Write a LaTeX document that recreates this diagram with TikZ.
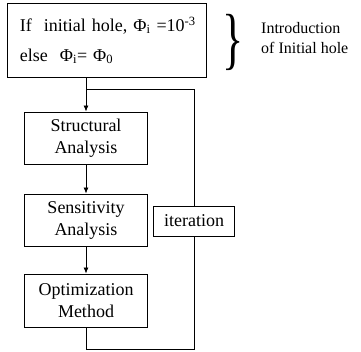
\documentclass[tikz,border=0pt]{standalone}
\usepackage{fontspec}
\setmainfont{Liberation Serif}
\usetikzlibrary{arrows.meta}
\begin{document}
\begin{tikzpicture}[x=1pt,y=-1pt,
  box/.style={draw,line width=0.9pt,minimum width=123pt,minimum height=52pt,inner sep=0pt,
    align=center,font=\fontsize{18}{22}\selectfont},
  conn/.style={line width=0.8pt},
  arr/.style={conn,-{Latex[length=6pt,width=5pt]}}]
\useasboundingbox (0,0) rectangle (361,352);
\node[draw,line width=0.9pt,minimum width=199pt,minimum height=74pt,inner sep=0pt,
  align=left,text width=174pt,font=\fontsize{18}{30}\selectfont,anchor=north west]
  (top) at (7,3) {\mbox{If\ \ initial hole, Φ\textsubscript{i} =10\textsuperscript{-3}}\\\mbox{else\ \ Φ\textsubscript{i}= Φ\textsubscript{0}}};
\node[box] (struct) at (86,138) {Structural\\Analysis};
\node[box] (sens) at (86,220) {Sensitivity\\Analysis};
\node[box,minimum height=53pt] (opt) at (86,300.5) {Optimization\\Method};
\node[draw,line width=0.9pt,minimum width=81pt,minimum height=30pt,inner sep=0pt,
  font=\fontsize{18}{22}\selectfont] (iter) at (194,221) {iteration};
\node[font=\fontsize{68}{68}\selectfont,inner sep=0pt,xscale=0.65] (brace) at (233,42) {\}};
\node[anchor=north west,align=left,inner sep=0pt,font=\fontsize{16}{20}\selectfont]
  (intro) at (261,22) {Introduction\\of Initial hole};
\coordinate (j) at (struct.north |- 0,89);
\draw[arr] (top.south -| struct.north) -- (struct.north);
\draw[conn] (j) -| (iter.north);
\draw[arr] (struct.south) -- (sens.north);
\draw[arr] (sens.south) -- (opt.north);
\draw[conn] (opt.south) -- ++(0,22) -| (iter.south);
\end{tikzpicture}
\end{document}
